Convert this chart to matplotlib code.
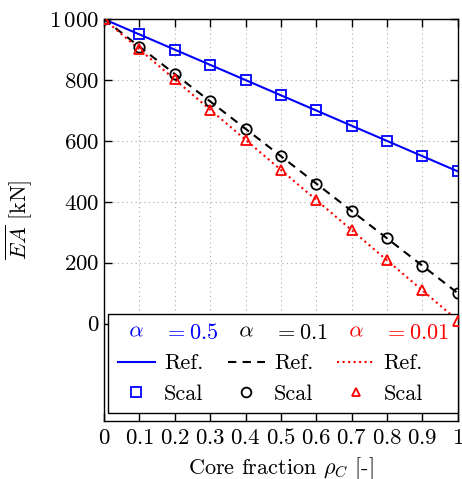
import matplotlib
matplotlib.use('Agg')
import matplotlib.pyplot as plt
from matplotlib.lines import Line2D
from matplotlib.ticker import FuncFormatter

# data
rho = [0.0, 0.1, 0.2, 0.3, 0.4, 0.5, 0.6, 0.7, 0.8, 0.9, 1.0]
ea_05 = [1000, 950, 900, 850, 800, 750, 700, 650, 600, 550, 500]
ea_01 = [1000, 910, 820, 730, 640, 550, 460, 370, 280, 190, 100]
ea_001 = [1000, 901, 802, 703, 604, 505, 406, 307, 208, 109, 10]
alpha_labels = ['0.5', '0.1', '0.01']
colors = ['blue', 'black', 'red']

plt.rcParams['font.family'] = 'serif'
plt.rcParams['font.serif'] = ['cmr10']
plt.rcParams['mathtext.fontset'] = 'cm'
plt.rcParams['axes.unicode_minus'] = False

fig = plt.figure(figsize=(4.62, 4.79), dpi=100)
ax = fig.add_axes([0.225, 0.121, 0.766, 0.839])

ax.plot(rho, ea_05, '-', color='blue', lw=1.5)
ax.plot(rho, ea_01, '--', color='black', lw=1.5, dashes=(4, 3))
ax.plot(rho, ea_001, ':', color='red', lw=1.5)
ax.plot(rho, ea_05, 's', color='blue', mfc='none', ms=7.5, mew=1.3, ls='none')
ax.plot(rho, ea_01, 'o', color='black', mfc='none', ms=7.5, mew=1.3, ls='none')
ax.plot(rho, ea_001, '^', color='red', mfc='none', ms=6.5, mew=1.3, ls='none', zorder=5)

ax.set_xlim(0, 1)
ax.set_ylim(-320, 1000)
ax.set_xticks(rho)
ax.set_yticks([0, 200, 400, 600, 800, 1000])
ax.xaxis.set_major_formatter(FuncFormatter(lambda v, p: '$%g$' % round(v, 1)))
ax.yaxis.set_major_formatter(FuncFormatter(
    lambda v, p: r'$1\,000$' if v == 1000 else '$%d$' % v))
ax.tick_params(direction='in', top=True, right=True, labelsize=16.5, length=6, width=1)
ax.tick_params(axis='x', pad=5)
ax.grid(True, ls=(0, (1, 3)), color='#aaaaaa', lw=0.8)
for s in ax.spines.values():
    s.set_linewidth(1)

ax.set_xlabel(r'Core fraction $\rho_C$ [-]', fontsize=16, labelpad=5)
ax.set_ylabel(r'$\overline{EA}$ [kN]', fontsize=16, labelpad=10)

# legend: 3 columns (alpha row, ref line, scal markers)
handles = []
labels = []
styles = [('-', 's'), ('--', 'o'), (':', '^')]
for lab, c, (ls, mk) in zip(alpha_labels, colors, styles):
    handles.append(Line2D([], [], ls='none', marker=r'$\alpha$', color=c, ms=9, mew=0))
    labels.append('$= %s$' % lab)
    if ls == '--':
        handles.append(Line2D([], [], ls=ls, color=c, lw=1.5, dashes=(4, 3)))
    else:
        handles.append(Line2D([], [], ls=ls, color=c, lw=1.5))
    labels.append('Ref.')
    handles.append(Line2D([], [], ls='none', marker=mk, color=c, mfc='none',
                          ms=7 if mk != '^' else 6, mew=1.3))
    labels.append('Scal')

leg = ax.legend(handles, labels, ncol=3, loc='lower left',
                bbox_to_anchor=(0.012, 0.02, 0.988, 0.3), mode='expand',
                fontsize=16, frameon=True, fancybox=False, edgecolor='black',
                framealpha=1, labelspacing=0.48, handlelength=1.7,
                handletextpad=0.4, borderaxespad=0, columnspacing=0.6,
                borderpad=0.42)
leg.get_frame().set_linewidth(1)
for t, c in zip(leg.get_texts()[0::3], colors):
    t.set_color(c)
leg.set_zorder(4)

fig.savefig('out.png', dpi=100)
